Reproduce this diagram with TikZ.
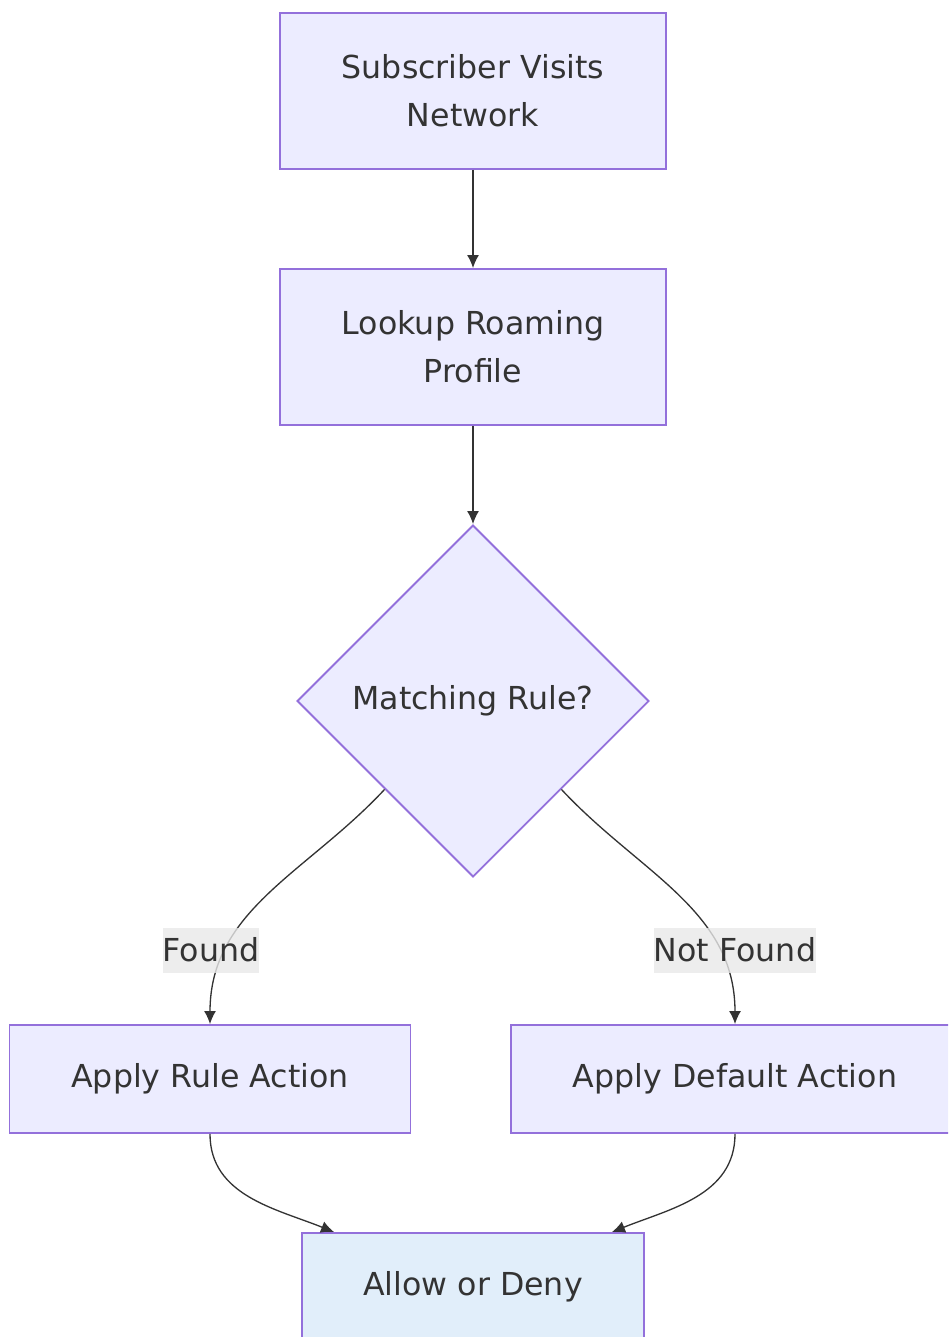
\documentclass[tikz,border=0pt]{standalone}
\usepackage{fontspec}
\setmainfont{DejaVu Sans}
\usetikzlibrary{arrows.meta,positioning,shapes.geometric}
\definecolor{boxfill}{HTML}{ECECFF}
\definecolor{boxline}{HTML}{9370DB}
\definecolor{endfill}{HTML}{E1EEFA}
\definecolor{labfill}{HTML}{E8E8E8}
\definecolor{ink}{HTML}{333333}
\begin{document}
\begin{tikzpicture}[
  font=\fontsize{18}{27.3}\selectfont, text=ink,
  box/.style={draw=boxline, fill=boxfill, line width=1.1pt, align=center, inner sep=0pt},
  decision/.style={diamond, aspect=1, draw=boxline, fill=boxfill, line width=1.1pt, inner sep=0pt,
    minimum width=7.04cm, minimum height=7.04cm},
  lab/.style={fill=labfill, fill opacity=0.8, text opacity=1, inner sep=0pt, minimum height=0.9cm},
  arr/.style={-{Latex[length=0.26cm, width=0.24cm]}, draw=ink, line width=0.75pt}
]
\useasboundingbox (0,0) rectangle (18.96,-26.74);
\clip (0,0) rectangle (18.96,-26.74);
% ---------- Main column ----------
\node[box, minimum width=7.72cm, minimum height=3.12cm] (visit) at (9.46,-1.82)
  {Subscriber Visits\\Network};
\node[box, minimum width=7.72cm, minimum height=3.12cm] (lookup) at (9.46,-6.94)
  {Lookup Roaming\\Profile};
\node[decision] (match) at (9.46,-14.02) {Matching Rule?};

% ---------- Actions ----------
\node[box, minimum width=8.02cm, minimum height=2.16cm] (ruleact) at (4.2,-21.58)
  {Apply Rule Action};
\node[box, minimum width=8.96cm, minimum height=2.16cm] (defact) at (14.7,-21.58)
  {Apply Default Action};
\node[box, fill=endfill, minimum width=6.84cm, minimum height=2.16cm] (verdict) at (9.46,-25.74)
  {Allow or Deny};

% ---------- Edges ----------
\draw[arr] (visit.south) -- (lookup.north);
\draw[arr] (lookup.south) -- (match.north);
\draw[arr] (match.south west) to[out=227, in=90] (ruleact.north);
\draw[arr] (match.south east) to[out=-47, in=90] (defact.north);
\draw[arr] (ruleact.south) to[out=270, in=158] ([xshift=0.66cm]verdict.north west);
\draw[arr] (defact.south) to[out=270, in=22] ([xshift=-0.66cm]verdict.north east);

% ---------- Edge labels ----------
\node[lab] (found) at (4.22,-19.0) {Found};
\node[lab] (notfound) at (14.7,-19.0) {Not Found};
\end{tikzpicture}
\end{document}
